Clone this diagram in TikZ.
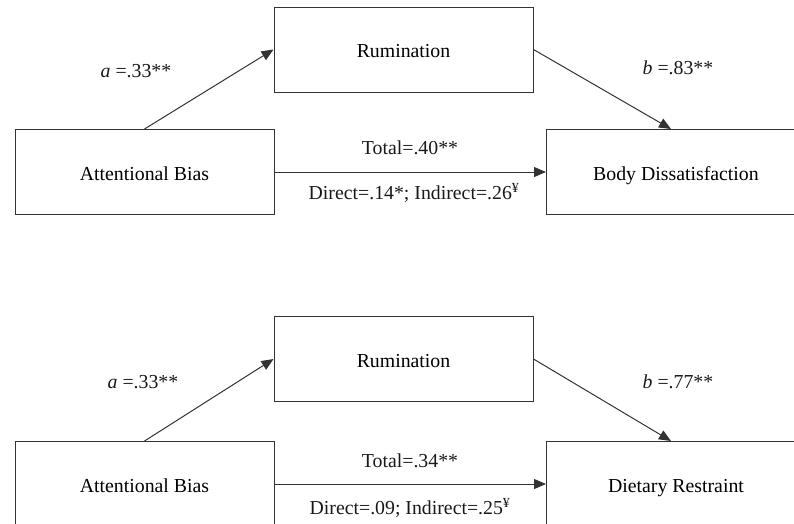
\documentclass[tikz,border=0pt]{standalone}
\usepackage{fontspec}
\setmainfont{Liberation Serif}
\usetikzlibrary{arrows.meta}

\tikzset{
    box/.style={draw=black!80, line width=1pt, minimum width=259pt,
        minimum height=85pt, inner sep=0pt, text height=17pt, text depth=1pt},
    effect/.style={draw=black!80, line width=1pt,
        -{Triangle[length=12pt, width=10pt]}},
    coef/.style={text=black!90, inner sep=1pt},
}

\begin{document}
\begin{tikzpicture}[x=1pt, y=-1pt, font=\fontsize{19.8}{23}\selectfont]

        \clip (0,0) rectangle (794,523);

        % body dissatisfaction model
        \node[box] (bias1) at (144.5,172) {Attentional Bias};
        \node[box] (rum1) at (403.5,49.5) {Rumination};
        \node[box] (body) at (676,172) {Body Dissatisfaction};

        \draw[effect] (bias1.north) -- (rum1.west);
        \draw[effect] (rum1.east) -- ([xshift=-5pt]body.north);
        \draw[effect] (bias1.east) -- (body.west);

        \node[coef] (a1) at (136,71) {\textit{a} =.33**};
        \node[coef] (b1) at (678,68) {\textit{b} =.83**};
        \node[coef] (tot1) at (410,148) {Total=.40**};
        \node[coef] (dir1) at (414,193) {Direct=.14*; Indirect=.26\textsuperscript{¥}};

        % dietary restraint model
        \node[box] (bias2) at (144.5,484) {Attentional Bias};
        \node[box] (rum2) at (403.5,359) {Rumination};
        \node[box] (diet) at (676,484) {Dietary Restraint};

        \draw[effect] (bias2.north) -- (rum2.west);
        \draw[effect] (rum2.east) -- ([xshift=-5pt]diet.north);
        \draw[effect] (bias2.east) -- (diet.west);

        \node[coef] (a2) at (143,382) {\textit{a} =.33**};
        \node[coef] (b2) at (678,382) {\textit{b} =.77**};
        \node[coef] (tot2) at (410,461) {Total=.34**};
        \node[coef] (dir2) at (410,508) {Direct=.09; Indirect=.25\textsuperscript{¥}};

\end{tikzpicture}
\end{document}
